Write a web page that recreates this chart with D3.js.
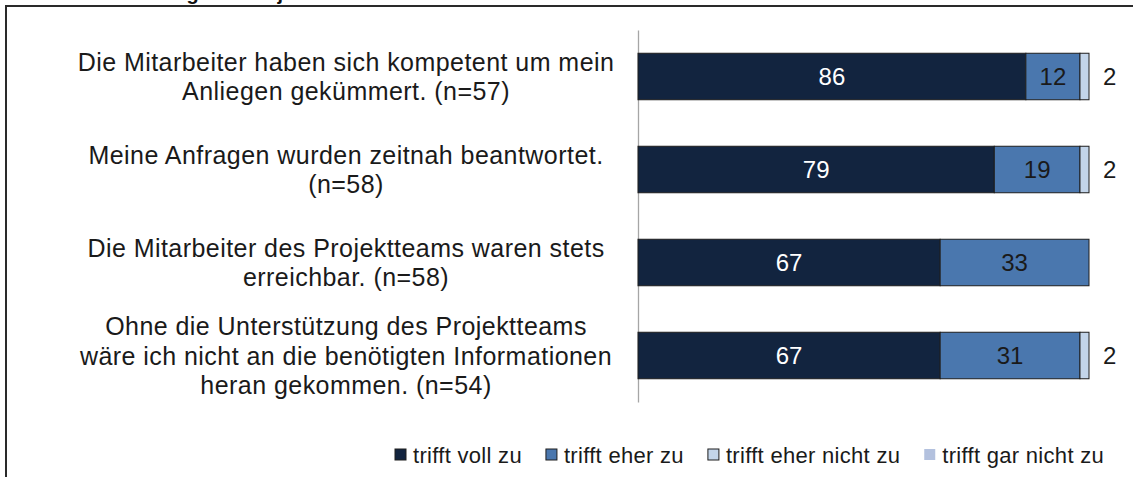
<!DOCTYPE html>
<html lang="de">
  <head>
    <meta charset="utf-8">
    <script src="https://cdn.jsdelivr.net/npm/d3@7"></script>
    <style>
      body{
        margin:0;
        background:#fff;
      }
      svg{
        display:block;
        font-family:"Liberation Sans", Arial, sans-serif;
      }
    </style>
  </head>
  <body>
    <svg></svg>
  </body>
  <script>

    // chart values
    var titleText = 'Abb. 4: Bewertung des Projektteams';
    var categories = [
      ['Die Mitarbeiter haben sich kompetent um mein', 'Anliegen gekümmert. (n=57)'],
      ['Meine Anfragen wurden zeitnah beantwortet.', '(n=58)'],
      ['Die Mitarbeiter des Projektteams waren stets', 'erreichbar. (n=58)'],
      ['Ohne die Unterstützung des Projektteams', 'wäre ich nicht an die benötigten Informationen', 'heran gekommen. (n=54)']
    ];
    var seriesNames = ['trifft voll zu', 'trifft eher zu', 'trifft eher nicht zu', 'trifft gar nicht zu'];
    var trifftVoll = [86, 79, 67, 67];
    var trifftEher = [12, 19, 33, 31];
    var trifftEherNicht = [2, 2, 0, 2];
    var trifftGarNicht = [0, 0, 0, 0];

    var colors = ['#12243f', '#4a77ae', '#c3d5ea', '#b3c1de'];
    var labelColors = ['#ffffff', '#1a1a1a', '#1a1a1a', '#1a1a1a'];

    var svgwidth = 1133;
    var svgheight = 477;

    var svg = d3.select('svg')
                .attr('width', svgwidth)
                .attr('height', svgheight);

    // frame, cut off at right and bottom
    svg.append('rect')
       .attr('x', 6)
       .attr('y', 6)
       .attr('width', svgwidth + 20)
       .attr('height', svgheight + 20)
       .attr('fill', 'none')
       .attr('stroke', '#2a2a2a')
       .attr('stroke-width', 2);

    // title, mostly outside of the picture (as in the source)
    svg.append('text')
       .attr('x', 22)
       .attr('y', 0)
       .attr('font-size', 20)
       .attr('font-weight', 'bold')
       .attr('fill', '#111')
       .text(titleText);

    var data = categories.map(function(c, i){
      return {
        idx: i,
        voll: trifftVoll[i],
        eher: trifftEher[i],
        eherNicht: trifftEherNicht[i],
        garNicht: trifftGarNicht[i]
      };
    });
    var keys = ['voll', 'eher', 'eherNicht', 'garNicht'];

    var stack = d3.stack().keys(keys);
    var series = stack(data);

    var xScale = d3.scaleLinear()
                   .domain([0, 100])
                   .range([638, 1089]);

    var yScale = d3.scaleBand()
                   .domain(d3.range(categories.length))
                   .range([30, 402])
                   .paddingInner(0.5)
                   .paddingOuter(0.25);

    // vertical axis line
    var yAxis = d3.axisLeft(yScale).tickSize(0).tickSizeOuter(0).tickFormat('');
    var axisG = svg.append('g')
                   .attr('transform', 'translate(' + xScale(0) + ',0)')
                   .call(yAxis);
    axisG.select('.domain').attr('stroke', '#a6a6a6').attr('stroke-width', 1.3);

    var groups = svg.selectAll('.series')
                    .data(series)
                    .enter()
                    .append('g')
                    .classed('series', true)
                    .attr('fill', function(d, i){ return colors[i]; });

    groups.selectAll('rect')
          .data(function(d){ return d.filter(function(p){ return p[1] - p[0] > 0; }); })
          .enter()
          .append('rect')
          .attr('x', function(d){ return xScale(d[0]); })
          .attr('y', function(d){ return yScale(d.data.idx); })
          .attr('width', function(d){ return xScale(d[1]) - xScale(d[0]); })
          .attr('height', yScale.bandwidth())
          .attr('stroke', '#1e1e1e')
          .attr('stroke-width', 1);

    // value labels inside the first two segments
    series.slice(0, 2).forEach(function(s, si){
      svg.selectAll('.lab' + si)
         .data(s.filter(function(p){ return p[1] - p[0] > 0; }))
         .enter()
         .append('text')
         .classed('lab' + si, true)
         .attr('x', function(d){ return (xScale(d[0]) + xScale(d[1])) / 2; })
         .attr('y', function(d){ return yScale(d.data.idx) + yScale.bandwidth() / 2; })
         .attr('dy', '0.36em')
         .attr('text-anchor', 'middle')
         .attr('font-size', 24)
         .attr('fill', labelColors[si])
         .text(function(d){ return d[1] - d[0]; });
    });

    // small values written to the right of the bar
    svg.selectAll('.outlab')
       .data(series[2].filter(function(p){ return p[1] - p[0] > 0; }))
       .enter()
       .append('text')
       .classed('outlab', true)
       .attr('x', xScale(100) + 14)
       .attr('y', function(d){ return yScale(d.data.idx) + yScale.bandwidth() / 2; })
       .attr('dy', '0.36em')
       .attr('font-size', 24)
       .attr('fill', '#1a1a1a')
       .text(function(d){ return d[1] - d[0]; });

    // category labels
    var lineStep = 29.5;
    var catText = svg.selectAll('.cat')
                     .data(categories)
                     .enter()
                     .append('text')
                     .classed('cat', true)
                     .attr('text-anchor', 'middle')
                     .attr('font-size', 25)
                     .attr('letter-spacing', 0.45)
                     .attr('fill', '#1a1a1a');

    catText.selectAll('tspan')
           .data(function(d, i){
             return d.map(function(line, j){
               return {line: line, j: j, n: d.length, i: i};
             });
           })
           .enter()
           .append('tspan')
           .attr('x', 346)
           .attr('y', function(d){
             var c = yScale(d.i) + yScale.bandwidth() / 2;
             return c + (d.j - (d.n - 1) / 2) * lineStep + 9;
           })
           .text(function(d){ return d.line; });

    // legend
    var legend = svg.append('g').attr('transform', 'translate(395,449)');
    var lx = 0;
    seriesNames.forEach(function(name, i){
      var item = legend.append('g').attr('transform', 'translate(' + lx + ',0)');
      item.append('rect')
          .attr('width', 11)
          .attr('height', 11)
          .attr('fill', colors[i])
          .attr('stroke', i < 3 ? '#1e1e1e' : 'none')
          .attr('stroke-width', 1);
      var t = item.append('text')
                  .attr('x', 18)
                  .attr('y', 14)
                  .attr('font-size', 22)
                  .attr('letter-spacing', 0.3)
                  .attr('fill', '#1a1a1a')
                  .text(name);
      lx += 18 + t.node().getComputedTextLength() + 24;
    });

  </script>
</html>
